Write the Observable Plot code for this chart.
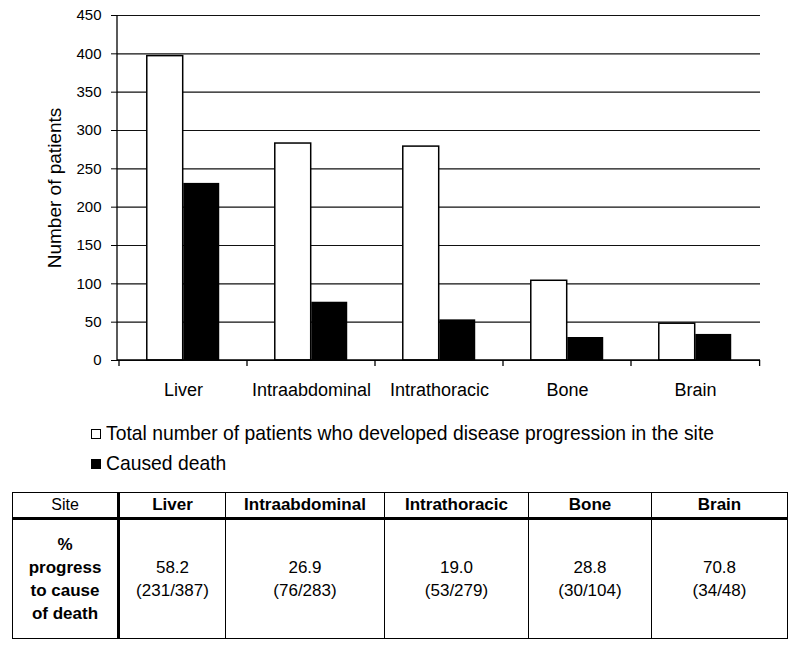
<!DOCTYPE html>
<html>
<head>
<meta charset="utf-8">
<script src="https://cdn.jsdelivr.net/npm/d3@7"></script>
<script src="https://cdn.jsdelivr.net/npm/@observablehq/plot@0.6"></script>
<style>
  html, body { margin: 0; padding: 0; background: #fff; }
  body { position: relative; width: 800px; height: 652px; font-family: "Liberation Sans", Arial, sans-serif; color: #000; overflow: hidden; }
  #chart svg { display: block; }
  #legend { position: absolute; left: 91px; top: 418px; font-size: 21px; line-height: 30px; }
  .li { white-space: nowrap; height: 30px; }
  .sw { display: inline-block; width: 8px; height: 8px; border: 1px solid #000; margin-right: 5px; vertical-align: 1px; }
  .sw.black { background: #000; }
  .txt { display: inline-block; transform-origin: left center; }
  #tbl { position: absolute; left: 12px; top: 492px; border-collapse: collapse; table-layout: fixed; width: 775px; }
  #tbl th, #tbl td { border: 1px solid #000; text-align: center; padding: 0; }
  #tbl tr.hd th { height: 24px; font-size: 17px; font-weight: bold; border-bottom: 3px solid #000; }
  #tbl tr.hd th.site { font-weight: normal; font-size: 16px; }
  #tbl .c0 { border-right: 3px solid #000; }
  #tbl tr.bd td { height: 118px; font-size: 17px; line-height: 23px; vertical-align: middle; }
  #tbl td.rl { font-weight: bold; line-height: 23.5px; }
</style>
</head>
<body>
<div id="chart"></div>
<div id="legend"></div>
<table id="tbl"></table>
<script>
// ---- data ----
const sites = ["Liver", "Intraabdominal", "Intrathoracic", "Bone", "Brain"];
const totalPatients = [397, 283, 279, 104, 48];
const causedDeath = [231, 76, 53, 30, 34];
const yTicks = [0, 50, 100, 150, 200, 250, 300, 350, 400, 450];
const seriesLabels = ["Total number of patients who developed disease progression in the site", "Caused death"];
const tableRowHeader = "Site";
const tableRowLabel = ["%", "progress", "to cause", "of death"];
const pctToDeath = ["58.2", "26.9", "19.0", "28.8", "70.8"];
const fractions = ["(231/387)", "(76/283)", "(53/279)", "(30/104)", "(34/48)"];

// ---- layout ----
const W = 800, H = 405, mL = 117, mR = 40, mT = 15, mB = 45;
const step = (W - mL - mR) / sites.length;
const barW = 0.284 * step;
const gap = (step - 2 * barW) / 2;

const rows = sites.map((s, i) => ({site: s, total: totalPatients[i], death: causedDeath[i]}));

function axisLines(index, scales, values, dim) {
  const g = d3.create("svg:g").attr("stroke", "#000").attr("stroke-width", 1.3);
  const x0 = dim.marginLeft, x1 = dim.width - dim.marginRight;
  const y0 = dim.height - dim.marginBottom, y1 = dim.marginTop;
  g.append("line").attr("x1", x0).attr("x2", x0).attr("y1", y1).attr("y2", y0);
  g.append("line").attr("x1", x0).attr("x2", x1).attr("y1", y0).attr("y2", y0);
  const st = (x1 - x0) / sites.length;
  for (let i = 0; i <= sites.length; i++) {
    const xx = i < sites.length ? scales.x(sites[i]) : scales.x(sites[sites.length - 1]) + st;
    g.append("line").attr("x1", xx).attr("x2", xx).attr("y1", y0).attr("y2", y0 + 6);
  }
  return g.node();
}

const plot = Plot.plot({
  width: W, height: H,
  marginLeft: mL, marginRight: mR, marginTop: mT, marginBottom: mB,
  style: {fontFamily: '"Liberation Sans", Arial, sans-serif', color: "#000", background: "#fff"},
  x: {type: "band", domain: sites, padding: 0, label: null},
  y: {domain: [0, 450], label: null},
  marks: [
    Plot.ruleY(yTicks, {stroke: "#111", strokeWidth: 1.2}),
    Plot.barY(rows, {x: "site", y: "total", fill: "white", stroke: "black", strokeWidth: 1.5,
      insetLeft: gap, insetRight: step - gap - barW}),
    Plot.barY(rows, {x: "site", y: "death", fill: "black",
      insetLeft: gap + barW, insetRight: gap}),
    Plot.axisY({ticks: yTicks, tickSize: 6, tickPadding: 10, fontSize: 15, label: null, stroke: "#000"}),
    Plot.axisX({tickSize: 0, tickPadding: 23, fontSize: 18, label: null}),
    Plot.text(["Number of patients"], {text: d => d, frameAnchor: "left", textAnchor: "middle", lineAnchor: "middle",
      rotate: -90, dx: -63, fontSize: 19, fill: "#000"}),
    axisLines
  ]
});
document.getElementById("chart").append(plot);

// ---- legend ----
const legend = document.getElementById("legend");
seriesLabels.forEach((lab, i) => {
  const li = document.createElement("div");
  li.className = "li";
  const sw = document.createElement("span");
  sw.className = "sw" + (i === 1 ? " black" : "");
  const t = document.createElement("span");
  t.className = "txt";
  t.textContent = lab;
  li.append(sw, t);
  legend.append(li);
});
const txts = legend.querySelectorAll(".txt");
const natural = txts[0].getBoundingClientRect().width;
const sx = 608 / natural;
txts.forEach(t => t.style.transform = `scaleX(${sx})`);

// ---- table ----
const tbl = document.getElementById("tbl");
const colW = [106, 107, 159, 144, 123, 136];
const cg = document.createElement("colgroup");
colW.forEach(w => { const c = document.createElement("col"); c.style.width = w + "px"; cg.append(c); });
tbl.append(cg);
const hr = document.createElement("tr"); hr.className = "hd";
const h0 = document.createElement("th"); h0.className = "site c0"; h0.textContent = tableRowHeader; hr.append(h0);
sites.forEach(s => { const th = document.createElement("th"); th.textContent = s; hr.append(th); });
tbl.append(hr);
const br = document.createElement("tr"); br.className = "bd";
const d0 = document.createElement("td"); d0.className = "rl c0"; d0.innerHTML = tableRowLabel.join("<br>"); br.append(d0);
sites.forEach((s, i) => { const td = document.createElement("td"); td.innerHTML = pctToDeath[i] + "<br>" + fractions[i]; br.append(td); });
tbl.append(br);
</script>
</body>
</html>
